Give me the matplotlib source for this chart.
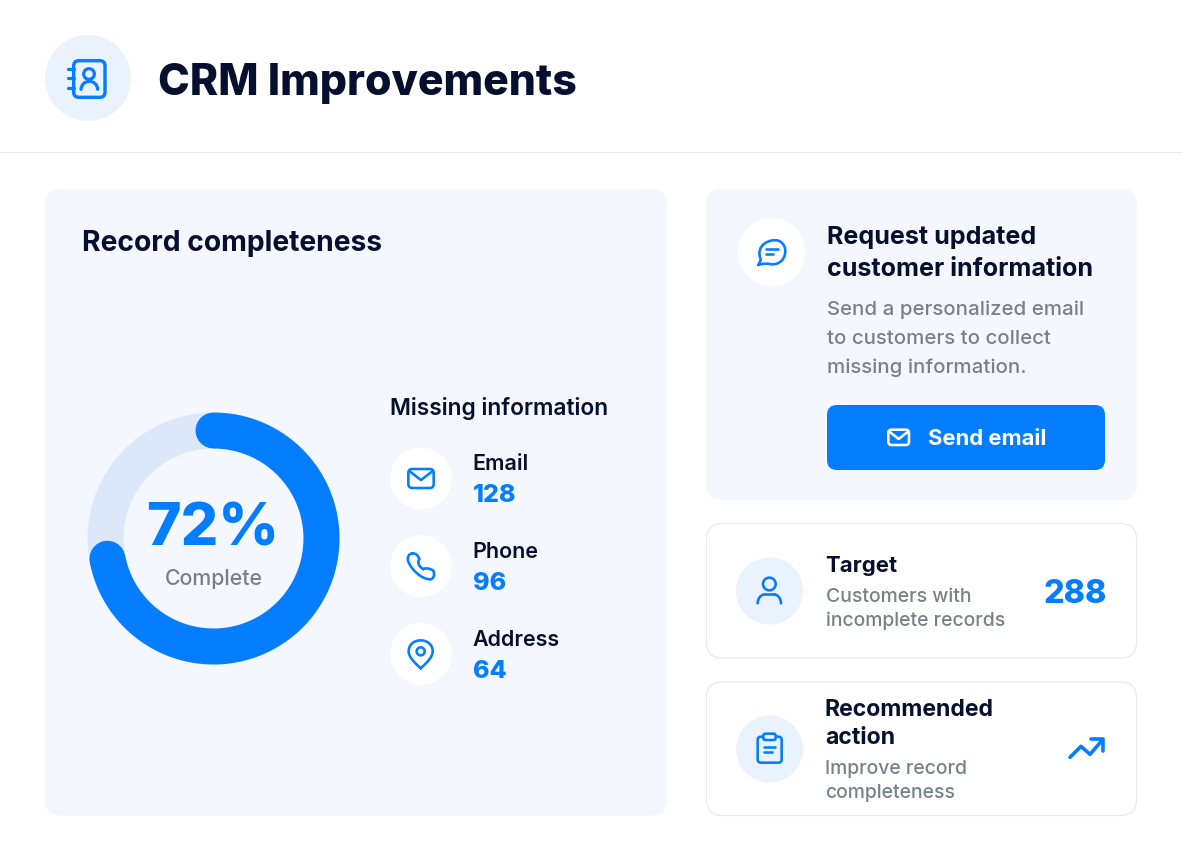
import numpy as np
import matplotlib
matplotlib.use('Agg')
import matplotlib.pyplot as plt
from matplotlib.patches import Circle, FancyBboxPatch, PathPatch
from matplotlib.path import Path

# chart values
complete_pct = 72
missing_labels = ['Email', 'Phone', 'Address']
missing_counts = [128, 96, 64]
target_count = 288

BLUE = '#057DFF'
NAVY = '#060F2E'
GRAY = '#7A8089'
PANEL = '#F4F7FE'
SOFT = '#EAF2FE'
TRACK = '#DCE8F9'
LINE = '#E6E8EB'
DPI = 100
PX = 72 / DPI  # pixels to points

plt.rcParams['font.family'] = ['Inter', 'DejaVu Sans']

fig = plt.figure(figsize=(11.82, 8.58), dpi=DPI, facecolor='white')
ax = fig.add_axes([0, 0, 1, 1])
ax.set_xlim(0, 1182)
ax.set_ylim(858, 0)
ax.axis('off')


def card(x0, y0, x1, y1, r, fc, ec='none', lw=0):
    ax.add_patch(FancyBboxPatch((x0 + r, y0 + r), x1 - x0 - 2 * r, y1 - y0 - 2 * r,
                                boxstyle=f'round,pad={r},rounding_size={r}',
                                fc=fc, ec=ec, lw=lw * PX))


def label(x, y, s, size, color=NAVY, weight=700, ha='left'):
    ax.text(x, y, s, fontsize=size * PX, color=color, fontweight=weight,
            ha=ha, va='baseline')


def dot(x, y, r, fc):
    ax.add_patch(Circle((x, y), r, fc=fc, ec='none'))


# icons are traced in the coordinates of a 3x crop of the picture
def stroke(pts, ox, oy, color=BLUE, lw=2.6):
    xs = [ox + p[0] / 3 for p in pts]
    ys = [oy + p[1] / 3 for p in pts]
    ax.plot(xs, ys, color=color, lw=lw * PX, solid_capstyle='round', solid_joinstyle='round')


def curve(pts, ox, oy, color=BLUE, lw=2.6):
    codes = [Path.MOVETO] + [Path.CURVE4] * (len(pts) - 1)
    verts = [(ox + p[0] / 3, oy + p[1] / 3) for p in pts]
    ax.add_patch(PathPatch(Path(verts, codes), fc='none', ec=color, lw=lw * PX, capstyle='round'))


def ring(cx, cy, r, ox, oy, color=BLUE, lw=2.6):
    ax.add_patch(Circle((ox + cx / 3, oy + cy / 3), r / 3, fc='none', ec=color, lw=lw * PX))


def rrect(x0, y0, x1, y1, r, ox, oy, color=BLUE, lw=2.6, fc='none'):
    ax.add_patch(FancyBboxPatch((ox + (x0 + r) / 3, oy + (y0 + r) / 3),
                                (x1 - x0 - 2 * r) / 3, (y1 - y0 - 2 * r) / 3,
                                boxstyle=f'round,pad={r / 3},rounding_size={r / 3}',
                                fc=fc, ec=color, lw=lw * PX))


def mail_icon(ox, oy, color=BLUE):
    rrect(85, 87, 161, 144, 12, ox, oy, color)
    stroke([(89, 94), (123, 120), (157, 94)], ox, oy, color)


# header
dot(88, 78, 43, SOFT)
rrect(131, 122, 225, 232, 16, 30, 20, lw=3.4)
ring(177, 162, 16, 30, 20, lw=3.2)
curve([(153, 208), (156, 176), (200, 176), (203, 208)], 30, 20, lw=3.2)
for ty in [147, 175, 204]:
    stroke([(115, ty), (131, ty)], 30, 20, lw=3.2)
label(158.5, 95.5, 'CRM Improvements', 42.8, weight=800)
ax.plot([0, 1182], [152, 152], color=LINE, lw=1 * PX)

# left panel
card(45, 189, 667, 815.5, 16, PANEL)
label(82, 251, 'Record completeness', 28.2)

# donut, measured clockwise from 12 o'clock
cx, cy, r_mid = 213.5, 538.5, 108
track = np.linspace(0, 2 * np.pi, 361)
ax.plot(cx + r_mid * np.sin(track), cy - r_mid * np.cos(track), color=TRACK,
        lw=36 * PX, solid_capstyle='butt')
theta = np.linspace(0, 2 * np.pi * complete_pct / 100, 300)
ax.plot(cx + r_mid * np.sin(theta), cy - r_mid * np.cos(theta), color=BLUE,
        lw=36 * PX, solid_capstyle='round')
label(212.5, 545, f'{complete_pct}%', 59, BLUE, 800, 'center')
label(213.5, 585, 'Complete', 21.3, GRAY, 500, 'center')

# missing information list
label(390, 415, 'Missing information', 22.7, weight=600)
for i, (name, count) in enumerate(zip(missing_labels, missing_counts)):
    dot(421, 478.5 + 87.7 * i, 31, 'white')
    label(472.5, 469.5 + 88 * i, name, 21.5, weight=600)
    label(473, 502 + 88 * i, str(count), 25, BLUE, 800)
mail_icon(380, 440)
curve([(97, 340), (85, 342), (82, 352), (84, 362), (92, 388), (125, 418), (150, 418),
       (160, 418), (166, 405), (160, 392), (152, 386), (135, 382), (130, 388),
       (118, 380), (110, 368), (118, 358), (114, 345), (108, 340), (97, 340)],
      380, 440)
curve([(122, 685), (100, 665), (86, 650), (86, 634), (86, 590), (158, 590), (158, 634),
       (158, 650), (144, 665), (122, 685)], 380, 440)
ring(122, 634, 12, 380, 440)

# request card
card(706, 189, 1137, 500, 16, PANEL)
dot(771.5, 252, 34, 'white')
curve([(85, 165), (90, 155), (93, 150), (92, 148), (75, 105), (120, 85), (145, 92),
       (180, 105), (170, 165), (125, 163), (110, 160), (100, 160), (85, 165)], 730, 210)
stroke([(107, 117), (143, 117)], 730, 210)
stroke([(107, 133), (130, 133)], 730, 210)
label(827, 244, 'Request updated', 25.1)
label(827, 275.5, 'customer information', 25.1)
for yy, line in zip([315, 344, 373], ['Send a personalized email', 'to customers to collect',
                                      'missing information.']):
    label(827, yy, line, 20.4, GRAY, 500)
card(827, 405, 1105, 470, 10, BLUE)
rrect(55, 44, 117, 90, 10, 870, 415, 'white')
stroke([(58, 50), (86, 72), (114, 50)], 870, 415, 'white')
label(987, 445, 'Send email', 22, 'white', 700, 'center')

# target card
card(706.5, 523.5, 1136.5, 658, 16, 'white', LINE, 1.1)
dot(769.5, 591, 33.5, SOFT)
ring(133, 102, 19, 725, 550)
curve([(98, 160), (98, 145), (108, 133), (120, 133)], 725, 550)
stroke([(120, 133), (146, 133)], 725, 550)
curve([(146, 133), (158, 133), (168, 145), (168, 160)], 725, 550)
label(825.5, 572, 'Target', 22.2)
label(826, 602, 'Customers with', 19.4, GRAY, 500)
label(826, 626, 'incomplete records', 19.4, GRAY, 500)
label(1107, 603, str(target_count), 32.4, BLUE, 800, 'right')

# recommended card
card(706.5, 682, 1136.5, 815.5, 16, 'white', LINE, 1.1)
dot(769.5, 749, 33.5, SOFT)
rrect(98, 560, 170, 638, 10, 725, 550)
rrect(115, 551, 152, 570, 6, 725, 550, fc=SOFT)
stroke([(117, 590), (150, 590)], 725, 550)
stroke([(117, 606), (141, 606)], 725, 550)
label(825, 716, 'Recommended', 23)
label(825, 744, 'action', 23)
label(825, 774, 'Improve record', 19.4, GRAY, 500)
label(825, 798, 'completeness', 19.4, GRAY, 500)
stroke([(60, 112), (93, 79), (120, 103), (157, 60)], 1050, 720, lw=3.6)
stroke([(122, 58), (158, 58), (158, 94)], 1050, 720, lw=3.6)

fig.savefig('out.png', dpi=DPI, facecolor='white')
